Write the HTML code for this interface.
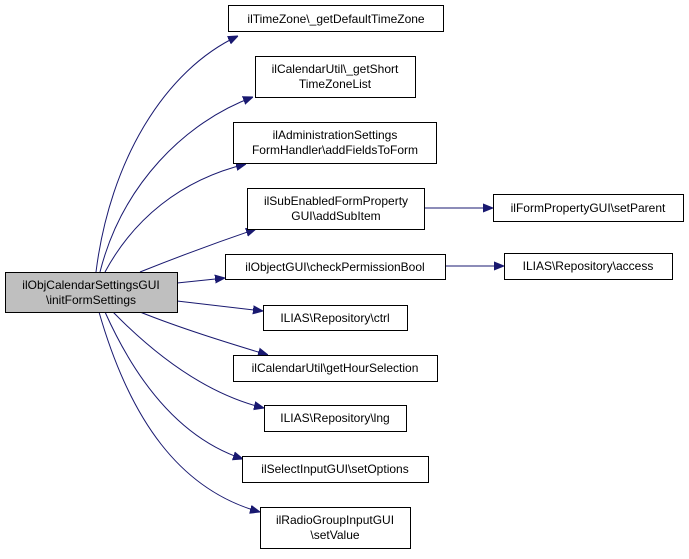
<!DOCTYPE html>
<html><head><style>
html,body{margin:0;padding:0;background:#fff;}
svg text{font-family:"Liberation Sans",Helvetica,sans-serif;font-size:12px;fill:#000;}
</style></head><body>
<svg width="689" height="554" viewBox="0 0 689 554" xmlns="http://www.w3.org/2000/svg">
<defs>
<marker id="a" viewBox="0 0 10 10" refX="10" refY="5" markerWidth="10" markerHeight="10" markerUnits="userSpaceOnUse" orient="auto">
<path d="M0,1 L10,5 L0,9 z" fill="#191970" stroke="#191970"/>
</marker>
</defs>
<g fill="none" stroke="#191970" stroke-width="1" marker-end="url(#a)">
<path d="M96,272 C110,160 165,70 238,36"/>
<path d="M100,272 C122,185 185,122 253,97"/>
<path d="M105,272 C133,220 180,180 246,164"/>
<path d="M140,272 C170,260 215,243 256,229"/>
<path d="M177,283 L225,278"/>
<path d="M177,301 L263,311"/>
<path d="M140,312 C180,328 225,342 268,355"/>
<path d="M113,312 C160,360 210,395 264,408"/>
<path d="M105,312 C140,390 185,440 243,459"/>
<path d="M99,312 C130,420 180,490 260,512"/>
<path d="M424,208 L493,208"/>
<path d="M445,266 L504,266"/>
</g>
<g stroke="#000" stroke-width="1">
<rect x="5.5" y="272.5" width="172" height="40" fill="#bfbfbf"/>
<rect x="228.5" y="5.5" width="215" height="26" fill="#fff"/>
<rect x="255.5" y="56.5" width="160" height="41" fill="#fff"/>
<rect x="233.5" y="122.5" width="203" height="41" fill="#fff"/>
<rect x="247.5" y="188.5" width="177" height="41" fill="#fff"/>
<rect x="225.5" y="254.5" width="220" height="25" fill="#fff"/>
<rect x="263.5" y="305.5" width="144" height="25" fill="#fff"/>
<rect x="233.5" y="355.5" width="204" height="26" fill="#fff"/>
<rect x="264.5" y="405.5" width="142" height="26" fill="#fff"/>
<rect x="242.5" y="456.5" width="186" height="26" fill="#fff"/>
<rect x="260.5" y="507.5" width="150" height="41" fill="#fff"/>
<rect x="493.5" y="194.5" width="190" height="27" fill="#fff"/>
<rect x="504.5" y="253.5" width="168" height="26" fill="#fff"/>
</g>
<g text-anchor="middle">
<text x="91" y="289">ilObjCalendarSettingsGUI</text>
<text x="91" y="304">\initFormSettings</text>
<text x="336" y="23">ilTimeZone\_getDefaultTimeZone</text>
<text x="335" y="73">ilCalendarUtil\_getShort</text>
<text x="335" y="88">TimeZoneList</text>
<text x="335" y="139">ilAdministrationSettings</text>
<text x="335" y="154">FormHandler\addFieldsToForm</text>
<text x="336" y="205">ilSubEnabledFormProperty</text>
<text x="336" y="220">GUI\addSubItem</text>
<text x="335" y="271">ilObjectGUI\checkPermissionBool</text>
<text x="335" y="322">ILIAS\Repository\ctrl</text>
<text x="335" y="372">ilCalendarUtil\getHourSelection</text>
<text x="335" y="422">ILIAS\Repository\lng</text>
<text x="335" y="473">ilSelectInputGUI\setOptions</text>
<text x="335" y="524">ilRadioGroupInputGUI</text>
<text x="335" y="539">\setValue</text>
<text x="588" y="212">ilFormPropertyGUI\setParent</text>
<text x="588" y="270">ILIAS\Repository\access</text>
</g>
</svg>
</body></html>
